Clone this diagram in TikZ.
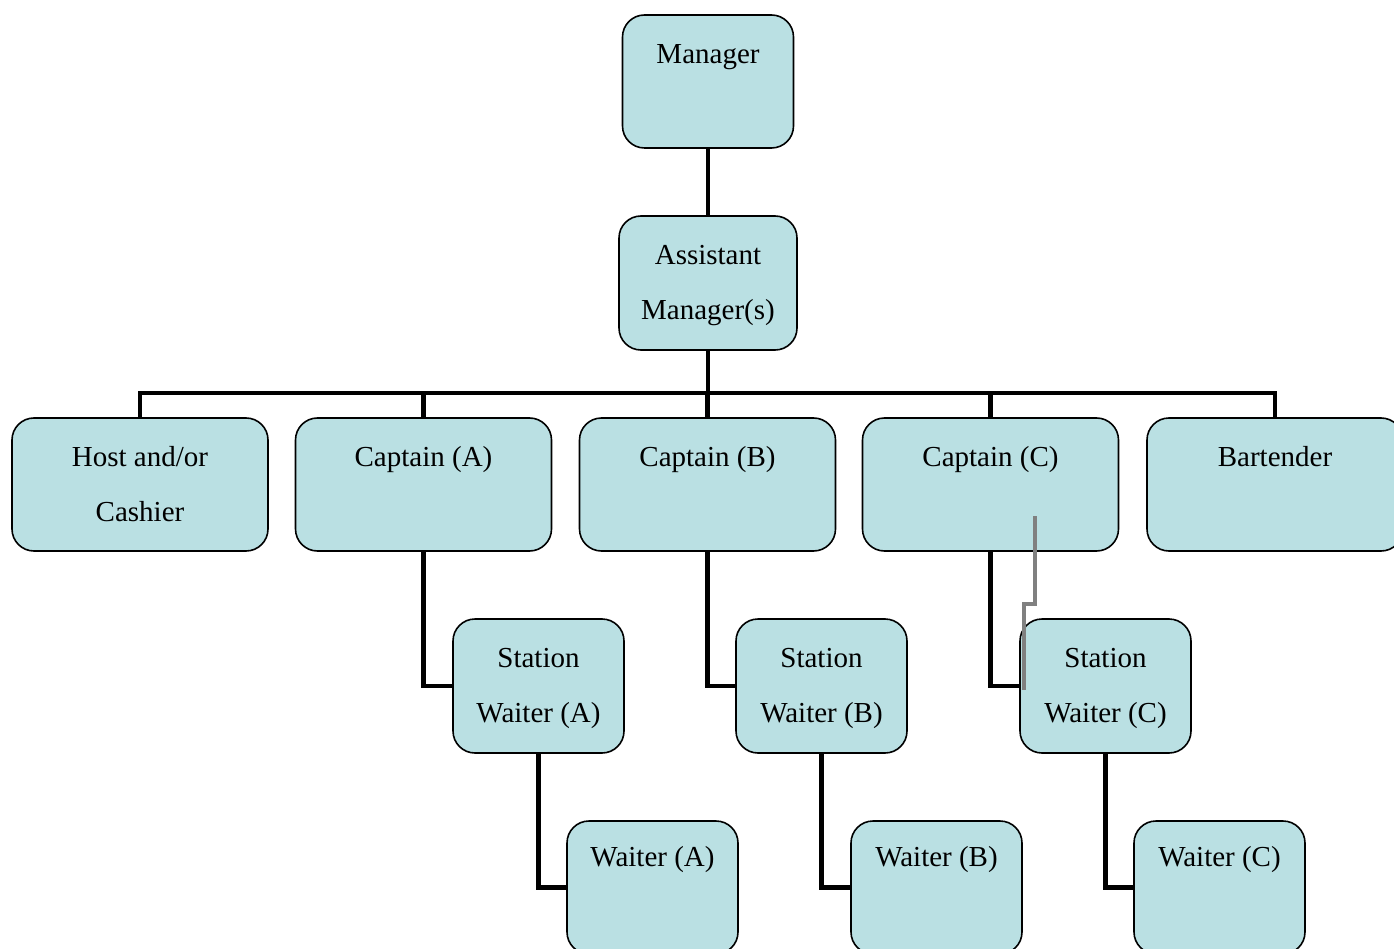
\documentclass[tikz,border=0pt]{standalone}
\usepackage{fontspec}
\setmainfont{Liberation Serif}
\begin{document}
\begin{tikzpicture}[x=1pt,y=-1pt,
  box/.style={draw=black,line width=1.6pt,rounded corners=22pt,fill=boxfill,
    inner sep=0pt,minimum height=133pt},
  wide/.style={box,minimum width=256pt},
  narrow/.style={box,minimum width=171pt},
  txt/.style={anchor=base,inner sep=0pt,font=\fontsize{29}{29}\selectfont},
  link/.style={line width=4.8pt,line cap=butt},
  stray/.style={line width=3.6pt,draw=strokegray}]
\definecolor{boxfill}{HTML}{BAE0E3}
\definecolor{strokegray}{HTML}{808080}
\useasboundingbox (0,0) rectangle (1394,949);
\clip (0,0) rectangle (1394,949);

% boxes
\node[narrow] (mgr) at (708,81.5) {};
\node[box,minimum width=178pt,minimum height=134pt] (asst) at (708,283) {};
\node[wide] (host) at (140,484.5) {};
\node[wide] (capA) at (423.5,484.5) {};
\node[wide] (capB) at (707.5,484.5) {};
\node[wide] (capC) at (990.5,484.5) {};
\node[wide] (bar) at (1275,484.5) {};
\node[narrow,minimum height=134pt] (swA) at (538.5,686) {};
\node[narrow,minimum height=134pt] (swB) at (821.5,686) {};
\node[narrow,minimum height=134pt] (swC) at (1105.5,686) {};
\node[narrow] (wA) at (652.5,887.5) {};
\node[narrow] (wB) at (936.5,887.5) {};
\node[narrow] (wC) at (1219.5,887.5) {};

% labels
\node[txt] (tmgr) at ([yshift=-49pt]mgr.north) {Manager};
\node[txt] (tasst1) at ([yshift=-49pt]asst.north) {Assistant};
\node[txt] (tasst2) at ([yshift=-104pt]asst.north) {Manager(s)};
\node[txt] (thost1) at ([yshift=-49pt]host.north) {Host and/or};
\node[txt] (thost2) at ([yshift=-104pt]host.north) {Cashier};
\node[txt] (tcapA) at ([yshift=-49pt]capA.north) {Captain (A)};
\node[txt] (tcapB) at ([yshift=-49pt]capB.north) {Captain (B)};
\node[txt] (tcapC) at ([yshift=-49pt]capC.north) {Captain (C)};
\node[txt] (tbar) at ([yshift=-49pt]bar.north) {Bartender};
\node[txt] (tswA1) at ([yshift=-49pt]swA.north) {Station};
\node[txt] (tswA2) at ([yshift=-104pt]swA.north) {Waiter (A)};
\node[txt] (tswB1) at ([yshift=-49pt]swB.north) {Station};
\node[txt] (tswB2) at ([yshift=-104pt]swB.north) {Waiter (B)};
\node[txt] (tswC1) at ([yshift=-49pt]swC.north) {Station};
\node[txt] (tswC2) at ([yshift=-104pt]swC.north) {Waiter (C)};
\node[txt] (twA) at ([yshift=-46pt]wA.north) {Waiter (A)};
\node[txt] (twB) at ([yshift=-46pt]wB.north) {Waiter (B)};
\node[txt] (twC) at ([yshift=-46pt]wC.north) {Waiter (C)};

% connectors
\coordinate (bus) at (708,393);
\draw[link] (mgr.south) -- (asst.north);
\draw[link] (asst.south) -- (bus);
\draw[link] (host.north) |- (bus) -| (bar.north);
\draw[link] (capA.north) -- (capA.north |- bus);
\draw[link] (capB.north) -- (capB.north |- bus);
\draw[link] (capC.north) -- (capC.north |- bus);
\draw[link] (capA.south) |- (swA.west);
\draw[link] (capB.south) |- (swB.west);
\draw[link] (capC.south) |- (swC.west);
\draw[link] (swA.south) |- (wA.west);
\draw[link] (swB.south) |- (wB.west);
\draw[link] (swC.south) |- (wC.west);

% stray grey elbow over Captain (C) / Station Waiter (C)
\coordinate (g1) at (1035,516);
\coordinate (g2) at (1035,604);
\coordinate (g3) at (1024,604);
\coordinate (g4) at (1024,690);
\draw[stray] (g1) -- (g2) -- (g3) -- (g4);
\end{tikzpicture}
\end{document}
